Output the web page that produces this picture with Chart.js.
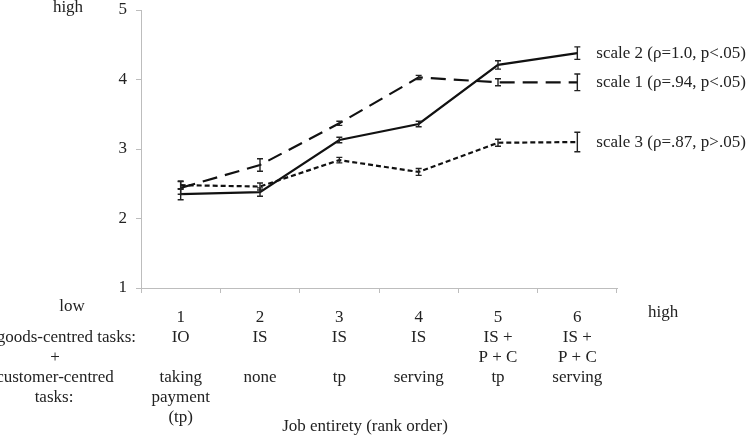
<!DOCTYPE html>
<html>
<head>
<meta charset="utf-8">
<script src="https://cdn.jsdelivr.net/npm/chart.js@4.4.1/dist/chart.umd.min.js"></script>
<style>
    html, body { margin: 0; padding: 0; background: #fff; }
    #wrap { width: 747px; height: 440px; }
</style>
</head>
<body>
<div id="wrap"><canvas id="chart" width="747" height="440"></canvas></div>
<script>
// ============================================
// Data
// ============================================
const categories = [
    ['1', 'IO', '', 'taking', 'payment', '(tp)'],
    ['2', 'IS', '', 'none'],
    ['3', 'IS', '', 'tp'],
    ['4', 'IS', '', 'serving'],
    ['5', 'IS +', 'P + C', 'tp'],
    ['6', 'IS +', 'P + C', 'serving']
];
const yTicks = [1, 2, 3, 4, 5];

const scale1Values = [2.44, 2.77, 3.37, 4.03, 3.96, 3.96];
const scale1Errors = [0.09, 0.09, 0.03, 0.03, 0.05, 0.12];
const scale2Values = [2.35, 2.38, 3.13, 3.36, 4.21, 4.38];
const scale2Errors = [0.08, 0.06, 0.04, 0.04, 0.06, 0.09];
const scale3Values = [2.48, 2.46, 2.84, 2.67, 3.09, 3.10];
const scale3Errors = [0.06, 0.05, 0.04, 0.05, 0.05, 0.14];

const seriesLabels = [
    'scale 1 (ρ=.94, p<.05)',
    'scale 2 (ρ=1.0, p<.05)',
    'scale 3 (ρ=.87, p>.05)'
];
const rowLabels = ['goods-centred tasks:', '+', 'customer-centred', 'tasks:'];

const FONT = '"Liberation Serif", "Times New Roman", serif';
const FONT_SIZE = 17;
const AXIS_GREY = '#bdbdbd';

// ============================================
// Error bars + text annotations
// ============================================
const errorBarPlugin = {
    id: 'errorBars',
    afterDatasetsDraw(chart) {
        const ctx = chart.ctx;
        const y = chart.scales.y;
        ctx.save();
        ctx.strokeStyle = '#222';
        ctx.lineWidth = 1.4;
        ctx.setLineDash([]);
        chart.data.datasets.forEach((ds, i) => {
            const meta = chart.getDatasetMeta(i);
            meta.data.forEach((pt, j) => {
                const v = ds.data[j];
                const e = ds.errors[j];
                const top = y.getPixelForValue(v + e);
                const bot = y.getPixelForValue(v - e);
                ctx.beginPath();
                ctx.moveTo(pt.x, top);
                ctx.lineTo(pt.x, bot);
                ctx.moveTo(pt.x - 3, top);
                ctx.lineTo(pt.x + 3, top);
                ctx.moveTo(pt.x - 3, bot);
                ctx.lineTo(pt.x + 3, bot);
                ctx.stroke();
            });
        });
        ctx.restore();
    },
    afterDraw(chart) {
        const ctx = chart.ctx;
        const area = chart.chartArea;
        const y = chart.scales.y;
        ctx.save();
        ctx.fillStyle = '#222';
        ctx.font = FONT_SIZE + 'px ' + FONT;
        ctx.textBaseline = 'middle';

        // series labels at the end of each line
        chart.data.datasets.forEach((ds, i) => {
            const meta = chart.getDatasetMeta(i);
            const last = meta.data[meta.data.length - 1];
            ctx.textAlign = 'left';
            ctx.fillText(ds.label, last.x + 19, y.getPixelForValue(ds.data[ds.data.length - 1]));
        });

        // row labels to the left of the category labels
        const row0 = area.bottom + 30;
        ctx.textAlign = 'center';
        ctx.fillText('low', area.left - 69, area.bottom + 19);
        ctx.textAlign = 'right';
        ctx.fillText(rowLabels[0], area.left - 5, row0 + 20);
        ctx.textAlign = 'center';
        ctx.fillText(rowLabels[1], area.left - 86, row0 + 40);
        ctx.fillText(rowLabels[2], area.left - 86, row0 + 60);
        ctx.fillText(rowLabels[3], area.left - 87, row0 + 80);

        // high / low markers and axis title
        ctx.textAlign = 'left';
        ctx.fillText('high', area.right + 31, area.bottom + 25);
        ctx.textAlign = 'center';
        ctx.fillText('high', area.left - 73, 8);
        ctx.fillText('Job entirety (rank order)', area.left + 224, area.bottom + 139);
        ctx.restore();
    }
};

// ============================================
// Chart
// ============================================
new Chart(document.getElementById('chart'), {
    type: 'line',
    data: {
        labels: categories,
        datasets: [
            {
                label: seriesLabels[0],
                data: scale1Values,
                errors: scale1Errors,
                borderColor: '#111',
                borderWidth: 2.2,
                borderDash: [15, 8],
                pointRadius: 0,
                tension: 0
            },
            {
                label: seriesLabels[1],
                data: scale2Values,
                errors: scale2Errors,
                borderColor: '#111',
                borderWidth: 2.2,
                pointRadius: 0,
                tension: 0
            },
            {
                label: seriesLabels[2],
                data: scale3Values,
                errors: scale3Errors,
                borderColor: '#111',
                borderWidth: 2.2,
                borderDash: [5, 3],
                pointRadius: 0,
                tension: 0
            }
        ]
    },
    options: {
        responsive: false,
        animation: false,
        layout: {
            padding: { top: 10, right: 130, left: 0, bottom: 0 }
        },
        plugins: {
            legend: { display: false },
            tooltip: { enabled: false }
        },
        scales: {
            x: {
                offset: true,
                grid: {
                    offset: true,
                    drawOnChartArea: false,
                    drawTicks: true,
                    tickLength: 5,
                    color: AXIS_GREY
                },
                border: { color: AXIS_GREY, width: 1 },
                ticks: {
                    autoSkip: false,
                    maxRotation: 0,
                    padding: 15,
                    color: '#222',
                    font: { family: FONT, size: FONT_SIZE, lineHeight: 20 / FONT_SIZE }
                },
                afterFit(scale) {
                    scale.height = 152;
                    scale.paddingLeft = 0;
                    scale.paddingRight = 0;
                }
            },
            y: {
                min: 1,
                max: 5,
                afterBuildTicks(scale) {
                    scale.ticks = yTicks.map(v => ({ value: v }));
                },
                grid: {
                    drawOnChartArea: false,
                    drawTicks: true,
                    tickLength: 5,
                    color: AXIS_GREY
                },
                border: { color: AXIS_GREY, width: 1 },
                ticks: {
                    padding: 9,
                    color: '#222',
                    font: { family: FONT, size: FONT_SIZE }
                },
                afterFit(scale) {
                    scale.width = 141;
                    scale.paddingTop = 0;
                    scale.paddingBottom = 0;
                }
            }
        }
    },
    plugins: [errorBarPlugin]
});
</script>
</body>
</html>
